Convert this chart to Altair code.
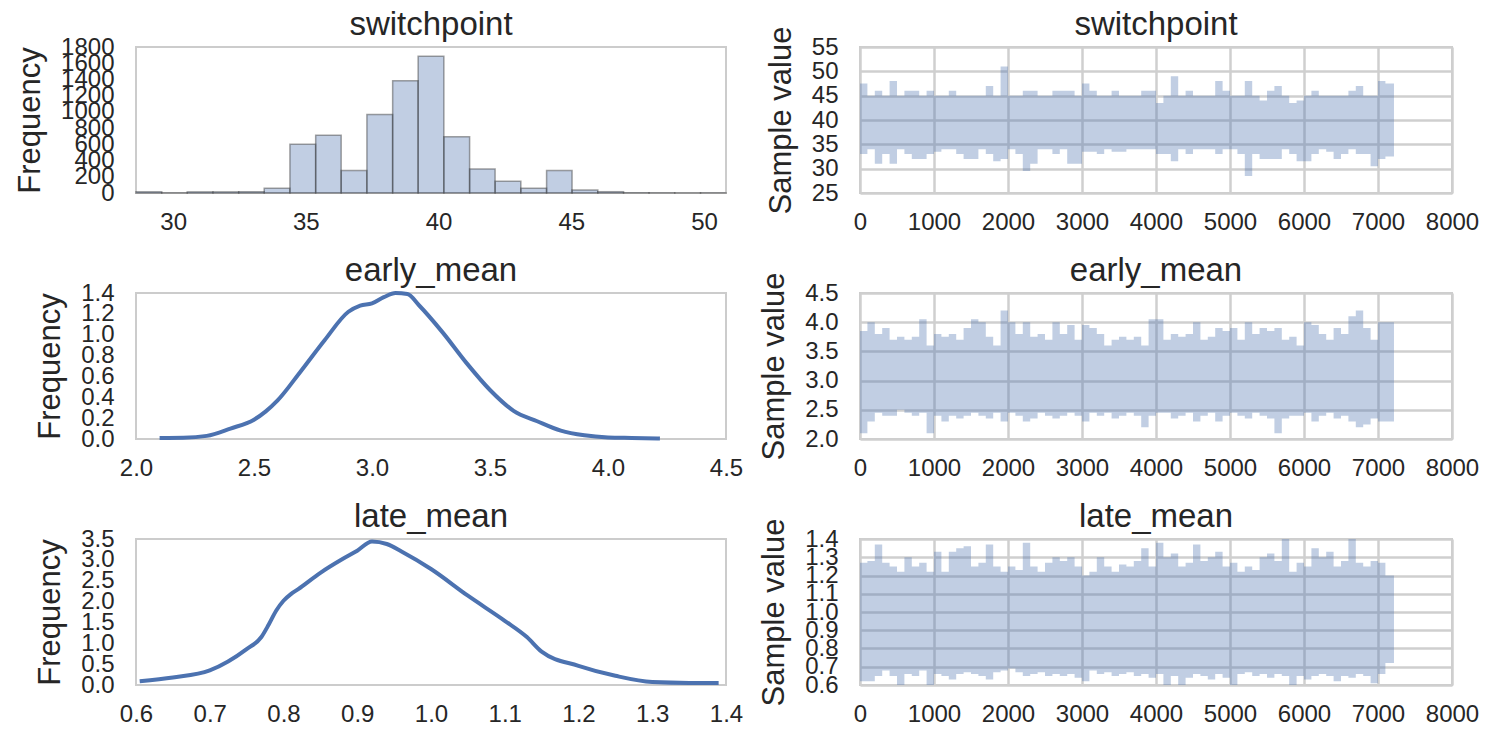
import altair as alt
import pandas as pd

# ---------------- data ----------------
# switchpoint histogram (bin edges and counts)
hist_start = [28.6, 29.57, 30.53, 31.5, 32.47, 33.43, 34.4, 35.37, 36.33, 37.3, 38.27, 39.23,
              40.2, 41.17, 42.13, 43.1, 44.07, 45.03, 46.0, 46.97, 47.93, 48.9, 49.87]
hist_end = [29.57, 30.53, 31.5, 32.47, 33.43, 34.4, 35.37, 36.33, 37.3, 38.27, 39.23, 40.2,
            41.17, 42.13, 43.1, 44.07, 45.03, 46.0, 46.97, 47.93, 48.9, 49.87, 50.83]
hist_count = [15, 2, 14, 14, 16, 58, 601, 713, 276, 968, 1384, 1685,
              692, 297, 144, 58, 276, 37, 16, 4, 2, 1, 2]

# early_mean KDE
early_x = [2.1, 2.2, 2.3, 2.4, 2.5, 2.55, 2.6, 2.7, 2.8, 2.9, 2.95, 3.0, 3.05, 3.1, 3.15, 3.2,
           3.3, 3.4, 3.5, 3.6, 3.7, 3.8, 3.9, 4.0, 4.1, 4.22]
early_y = [0.01, 0.012, 0.03, 0.1, 0.185, 0.265, 0.37, 0.655, 0.95, 1.22, 1.28, 1.30, 1.36, 1.40,
           1.39, 1.28, 1.02, 0.73, 0.47, 0.27, 0.17, 0.08, 0.035, 0.015, 0.01, 0.005]

# late_mean KDE
late_x = [0.605, 0.65, 0.7, 0.75, 0.77, 0.78, 0.79, 0.8, 0.81, 0.82, 0.85, 0.88, 0.9, 0.92,
          0.94, 0.96, 1.0, 1.05, 1.1, 1.13, 1.15, 1.2, 1.25, 1.3, 1.35, 1.39]
late_y = [0.09, 0.18, 0.35, 0.86, 1.15, 1.45, 1.78, 2.02, 2.18, 2.3, 2.69, 3.02, 3.22, 3.44,
          3.38, 3.2, 2.78, 2.14, 1.54, 1.15, 0.8, 0.46, 0.22, 0.07, 0.05, 0.05]

# trace envelopes: per block of 100 samples (block start index), min / max of the chain
block_start = list(range(0, 7200, 100))
trace_end = 7216

sp_high = [47.5, 45, 46, 45, 48, 45, 46, 46, 45, 46, 45, 45, 46, 45, 45, 45, 45, 47, 45, 51,
           45, 45, 46, 46, 45, 45, 46, 46, 46, 45, 47.5, 46, 45, 45, 46, 45, 45, 45, 46, 46,
           43.5, 45, 49, 45, 46, 45, 45, 45, 48, 46, 45, 45, 48, 45, 44, 46, 47, 45, 43.5, 44,
           45, 46, 45, 45, 45, 45, 46, 47, 45, 45, 48, 47.5]
sp_low = [33, 34, 31, 33, 31, 34, 33, 32, 32, 33, 33.5, 34, 34, 33, 32, 32, 34, 33, 31.5, 32,
          34, 33, 29.5, 31, 34, 34, 33, 34, 31, 31, 33.5, 33.5, 33, 34, 33.5, 33.5, 34, 34, 34, 34,
          33, 33, 31.5, 34, 33, 34, 34, 34, 33, 34, 34, 33, 28.5, 33, 32, 32, 32, 34, 33, 31.5,
          31.5, 33, 34, 33.5, 32, 33, 34, 33, 33, 30.5, 32, 32.5]

em_high = [3.85, 4.0, 3.8, 3.9, 3.7, 3.75, 3.7, 3.75, 4.05, 3.6, 3.8, 3.75, 3.8, 3.7, 3.9, 4.05,
           4.0, 3.75, 3.6, 4.2, 4.0, 3.8, 4.0, 3.75, 3.8, 3.7, 4.0, 3.8, 3.95, 3.7, 3.95, 3.9,
           3.8, 3.6, 3.7, 3.75, 3.7, 3.75, 3.6, 4.05, 4.05, 3.7, 3.8, 3.75, 3.8, 4.0, 3.7, 3.75,
           3.9, 3.85, 3.9, 3.7, 4.0, 3.8, 3.9, 3.85, 3.9, 3.7, 3.75, 3.6, 4.0, 3.95, 3.8, 3.7,
           3.9, 3.8, 4.1, 4.2, 3.9, 3.7, 4.0, 4.0]
em_low = [2.1, 2.3, 2.45, 2.4, 2.4, 2.5, 2.45, 2.4, 2.45, 2.1, 2.4, 2.3, 2.4, 2.35, 2.4, 2.45,
          2.4, 2.35, 2.45, 2.3, 2.45, 2.4, 2.3, 2.35, 2.45, 2.4, 2.35, 2.4, 2.45, 2.4, 2.3, 2.45,
          2.4, 2.45, 2.35, 2.4, 2.45, 2.4, 2.2, 2.4, 2.45, 2.45, 2.35, 2.4, 2.45, 2.3, 2.4, 2.45,
          2.3, 2.4, 2.45, 2.4, 2.35, 2.45, 2.4, 2.35, 2.1, 2.35, 2.4, 2.4, 2.45, 2.3, 2.4, 2.45,
          2.35, 2.4, 2.3, 2.2, 2.25, 2.35, 2.3, 2.3]

lm_high = [1.27, 1.28, 1.37, 1.27, 1.25, 1.22, 1.3, 1.25, 1.27, 1.22, 1.33, 1.22, 1.33, 1.35,
           1.36, 1.25, 1.27, 1.37, 1.25, 1.22, 1.25, 1.23, 1.38, 1.25, 1.22, 1.27, 1.3, 1.28,
           1.3, 1.25, 1.2, 1.22, 1.3, 1.25, 1.22, 1.26, 1.25, 1.28, 1.35, 1.25, 1.38, 1.3, 1.32,
           1.25, 1.27, 1.37, 1.28, 1.3, 1.33, 1.25, 1.27, 1.22, 1.25, 1.23, 1.3, 1.32, 1.28,
           1.4, 1.22, 1.27, 1.25, 1.35, 1.3, 1.33, 1.25, 1.28, 1.4, 1.27, 1.25, 1.28, 1.27, 1.2]
lm_low = [0.62, 0.62, 0.65, 0.68, 0.65, 0.6, 0.66, 0.65, 0.68, 0.6, 0.66, 0.65, 0.63, 0.66,
          0.67, 0.66, 0.65, 0.63, 0.67, 0.68, 0.69, 0.67, 0.65, 0.66, 0.67, 0.65, 0.66, 0.65,
          0.66, 0.64, 0.62, 0.68, 0.66, 0.67, 0.65, 0.66, 0.67, 0.65, 0.66, 0.64, 0.66, 0.6,
          0.65, 0.6, 0.64, 0.66, 0.65, 0.63, 0.66, 0.64, 0.6, 0.66, 0.67, 0.65, 0.66, 0.64,
          0.66, 0.65, 0.6, 0.65, 0.63, 0.65, 0.66, 0.65, 0.62, 0.65, 0.64, 0.66, 0.65, 0.61,
          0.66, 0.72]

# ---------------- style ----------------
BLUE = "#4C72B0"
TXT = "#262626"
GRID = "#cfcfcf"
WL, WR, H = 590, 592, 146
FONT = "Liberation Sans"


def ax(**kw):
    base = dict(ticks=False, domain=False, labelFontSize=24, titleFontSize=31,
                labelColor=TXT, titleColor=TXT, labelOverlap=False, labelFlush=False,
                labelPadding=17, titleFontWeight="normal", titlePadding=14,
                labelFont=FONT, titleFont=FONT, gridColor=GRID, gridWidth=2.5)
    base.update(kw)
    return alt.Axis(**base)


def ttl(name, offset):
    return alt.TitleParams(name, offset=offset, fontSize=33, font=FONT, color=TXT,
                           fontWeight="normal", anchor="middle")


def trace_df(low, high):
    return pd.DataFrame({
        "sample": block_start + [trace_end],
        "low": low + [low[-1]],
        "high": high + [high[-1]],
    })


def trace_chart(low, high, domain, yticks, yfmt, name):
    return alt.Chart(trace_df(low, high)).mark_area(
        color=BLUE, opacity=0.35, interpolate="step-after"
    ).encode(
        x=alt.X("sample:Q", scale=alt.Scale(domain=[0, 8000], nice=False),
                axis=ax(values=list(range(0, 8001, 1000)), format="d", title=None, grid=True)),
        y=alt.Y("low:Q", scale=alt.Scale(domain=domain, nice=False, zero=False),
                axis=ax(values=yticks, format=yfmt, title="Sample value", grid=True,
                        labelPadding=22)),
        y2="high:Q",
    ).properties(width=WR, height=H, title=ttl(name, -16))


def kde_chart(xs, ys, xdom, xticks, ydom, yticks, name):
    df = pd.DataFrame({"x": xs, "y": ys})
    return alt.Chart(df).mark_line(color=BLUE, strokeWidth=4, interpolate="monotone").encode(
        x=alt.X("x:Q", scale=alt.Scale(domain=xdom, nice=False, zero=False),
                axis=ax(values=xticks, format=".1f", title=None, grid=False)),
        y=alt.Y("y:Q", scale=alt.Scale(domain=ydom, nice=False),
                axis=ax(values=yticks, format=".1f", title="Frequency", grid=False,
                        labelPadding=22)),
    ).properties(width=WL, height=H, title=ttl(name, -7))


hist_df = pd.DataFrame({"start": hist_start, "end": hist_end, "count": hist_count})
hist = alt.Chart(hist_df).mark_rect(
    fill=BLUE, fillOpacity=0.35, stroke="#333333", strokeOpacity=0.45, strokeWidth=1.5
).encode(
    x=alt.X("start:Q", scale=alt.Scale(domain=[28.6, 50.83], nice=False, zero=False),
            axis=ax(values=[30, 35, 40, 45, 50], format="d", title=None, grid=False)),
    x2="end:Q",
    y=alt.Y("count:Q", scale=alt.Scale(domain=[0, 1800], nice=False),
            axis=ax(values=list(range(0, 1801, 200)), format="d", title="Frequency",
                    grid=False, labelPadding=22)),
    y2=alt.datum(0),
).properties(width=WL, height=H, title=ttl("switchpoint", -7))

t1 = trace_chart(sp_low, sp_high, [25, 55], [25, 30, 35, 40, 45, 50, 55], "d", "switchpoint")
k2 = kde_chart(early_x, early_y, [2.0, 4.5], [2.0, 2.5, 3.0, 3.5, 4.0, 4.5],
               [0, 1.4], [0.0, 0.2, 0.4, 0.6, 0.8, 1.0, 1.2, 1.4], "early_mean")
t2 = trace_chart(em_low, em_high, [2.0, 4.5], [2.0, 2.5, 3.0, 3.5, 4.0, 4.5], ".1f", "early_mean")
k3 = kde_chart(late_x, late_y, [0.6, 1.4], [0.6, 0.7, 0.8, 0.9, 1.0, 1.1, 1.2, 1.3, 1.4],
               [0, 3.5], [0.0, 0.5, 1.0, 1.5, 2.0, 2.5, 3.0, 3.5], "late_mean")
t3 = trace_chart(lm_low, lm_high, [0.6, 1.4],
                 [0.6, 0.7, 0.8, 0.9, 1.0, 1.1, 1.2, 1.3, 1.4], ".1f", "late_mean")

chart = alt.concat(hist, t1, k2, t2, k3, t3, columns=2, bounds="flush",
                   spacing={"row": 100, "column": 134}).properties(
    padding={"left": 13, "top": 8, "right": 4, "bottom": 0},
    background="white",
).configure(font=FONT).configure_view(stroke="#cccccc", strokeWidth=2)

chart.save("out.html", embed_options={"renderer": "svg", "actions": False})
